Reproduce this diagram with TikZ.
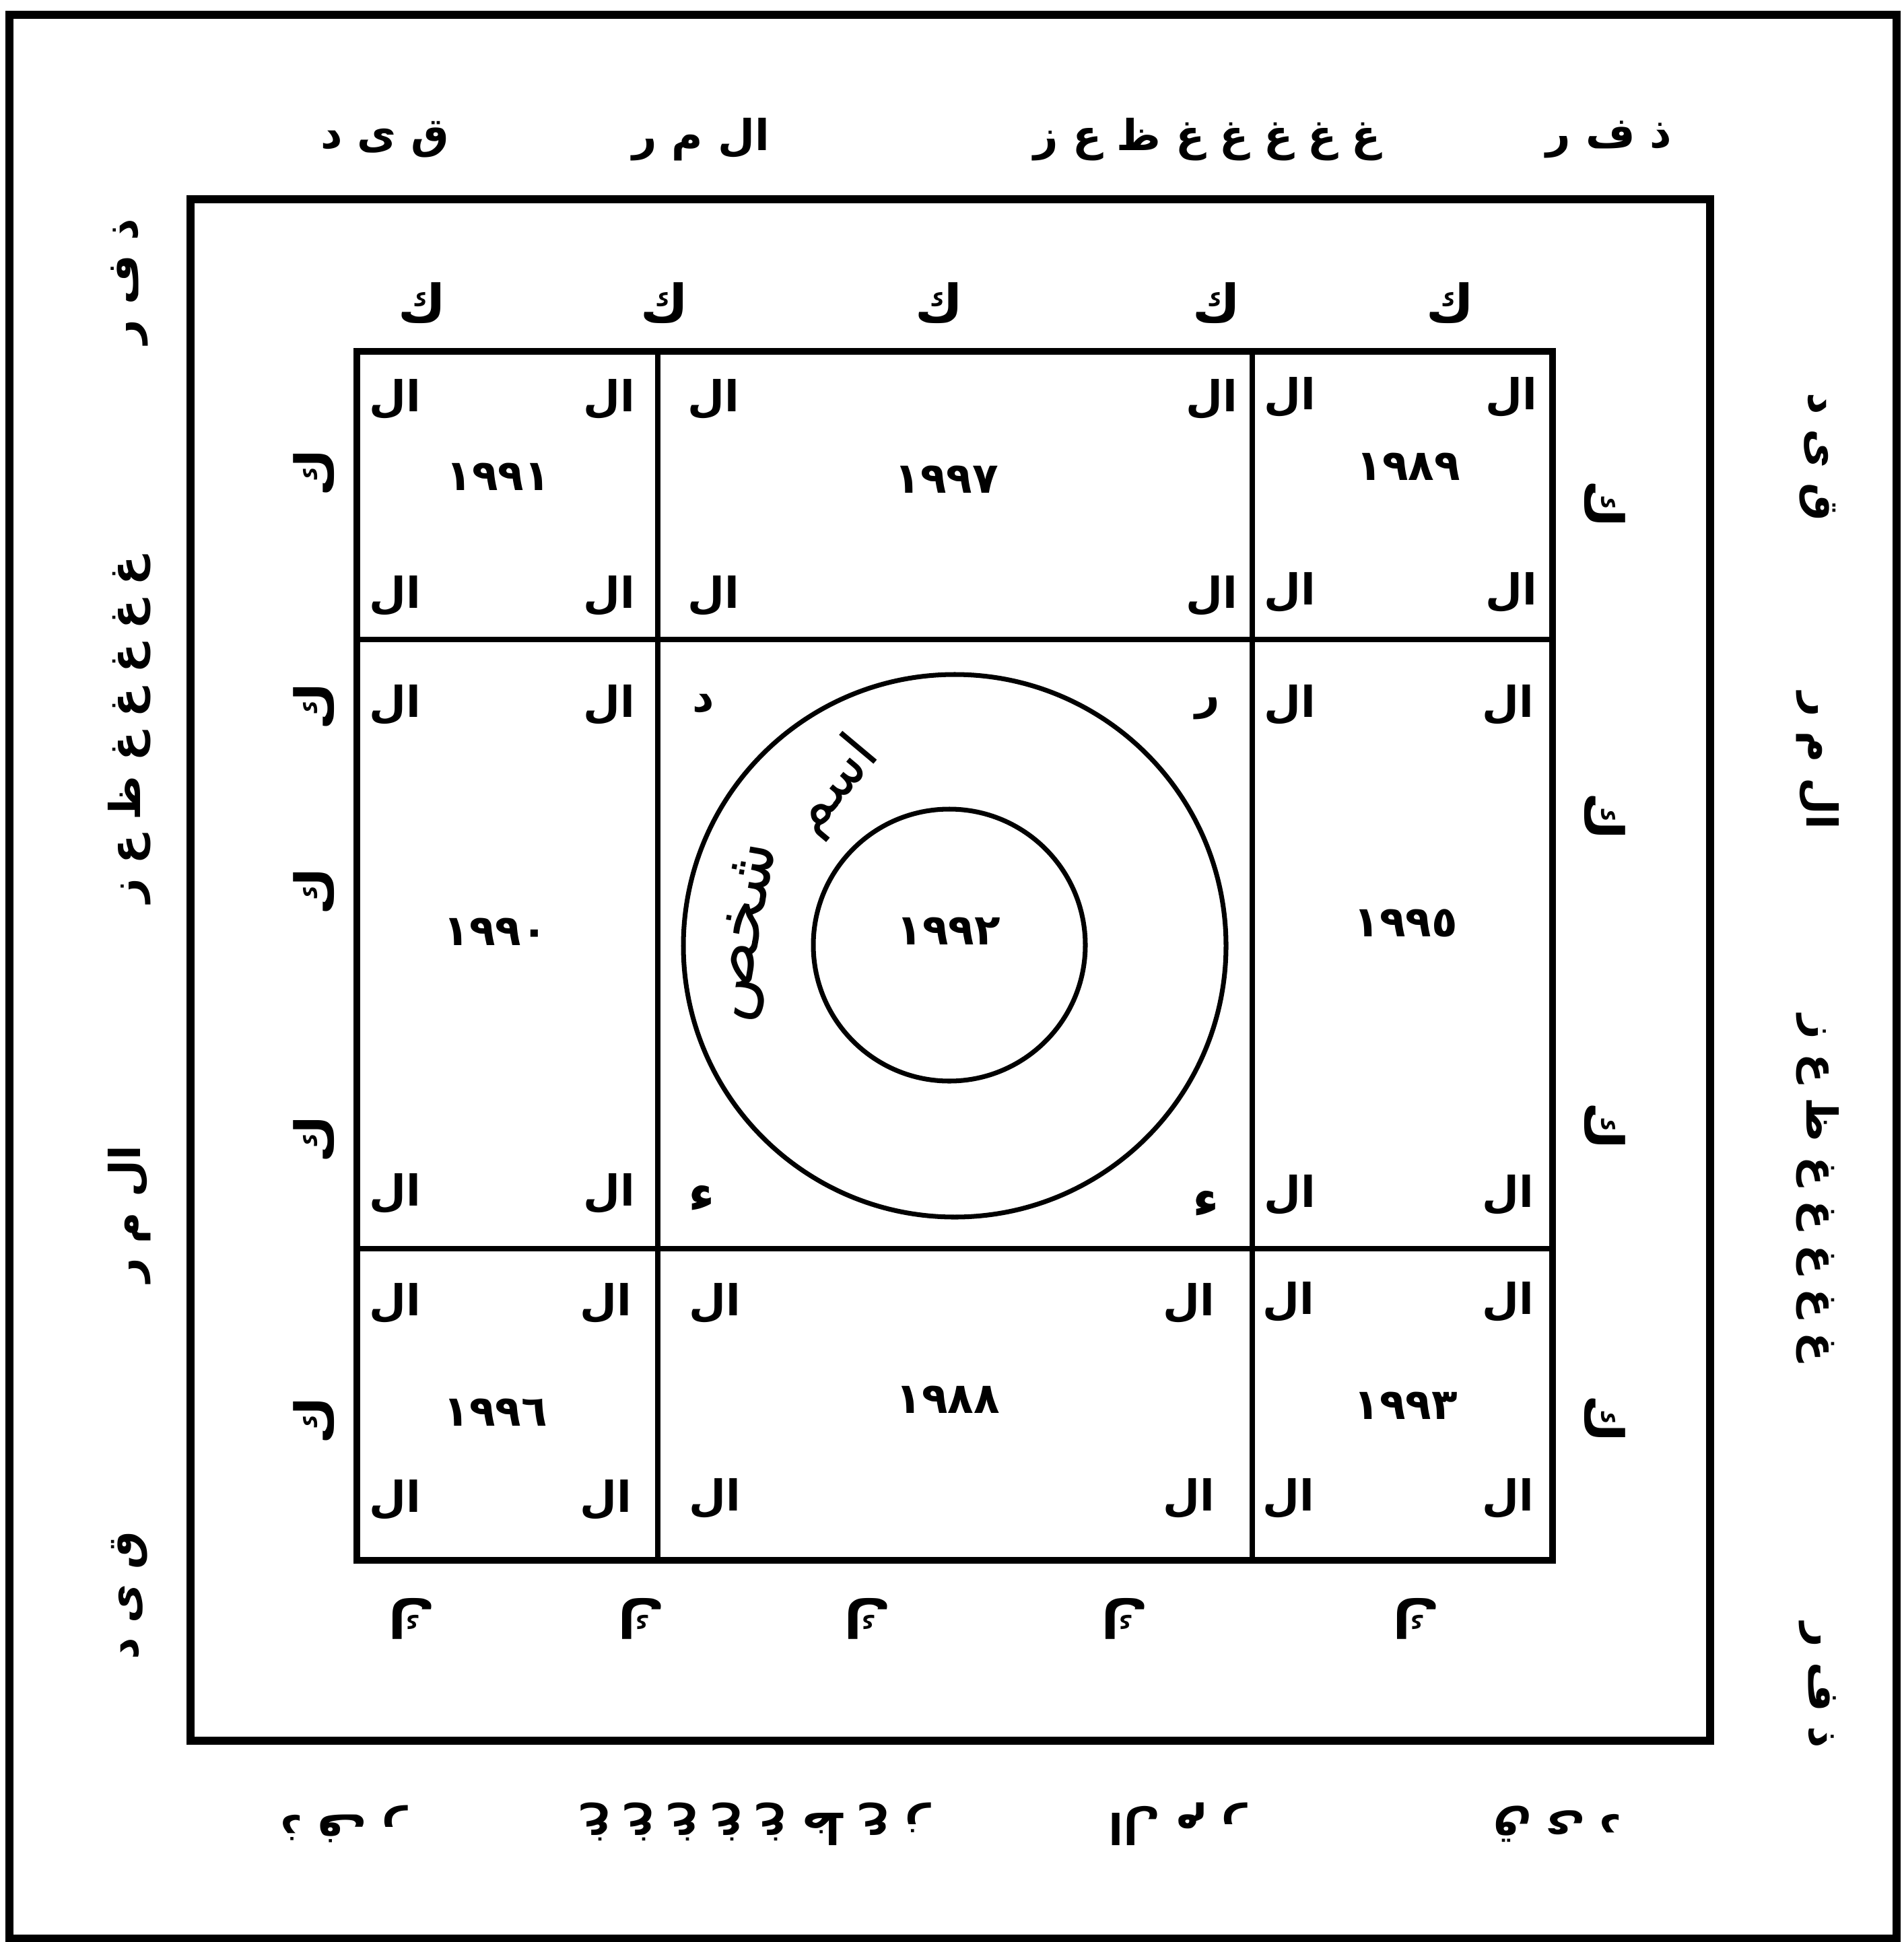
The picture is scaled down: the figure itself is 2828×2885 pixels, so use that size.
\documentclass[tikz,border=0pt]{standalone}
\usepackage{fontspec}
\newfontfamily\arabicfont[Script=Arabic]{DejaVu Sans}
\TeXXeTstate=1
\newcommand\rtl[1]{\beginR #1\endR}
\newcommand\wqyd{ق ى د}
\newcommand\wmr{ال م ر}
\newcommand\wgh{غ غ غ غ غ ظ ع ز}
\newcommand\wdhf{ذ ف ر}

\begin{document}
\begin{tikzpicture}[x=0.01cm,y=-0.01cm,
    txt/.style={font=\arabicfont\bfseries\fontsize{18}{20}\selectfont,inner sep=0pt},
    big/.style={font=\arabicfont\bfseries\fontsize{22}{24}\selectfont,inner sep=0pt},
    hand/.style={font=\arabicfont\fontsize{#1}{#1}\selectfont,inner sep=0pt},
    ring/.style={line width=2pt}]
  \useasboundingbox (0,0) rectangle (2828,2885);
  \draw[line width=3.2pt] (14,22) rectangle (2817,2880);
  \draw[line width=3.2pt] (283,296) rectangle (2540,2586);
  \draw[line width=2.8pt] (530,522) rectangle (2306,2318);
  \draw[line width=2.2pt] (977,522) -- (977,2318) (1860,522) -- (1860,2318)
    (530,950) -- (2306,950) (530,1855) -- (2306,1855);

  \coordinate (mid) at (1418,1405);
  \coordinate (hub) at (1410,1404);
  \draw[ring] (mid) circle (403);
  \draw[ring] (hub) circle (202);
  \node[txt] (core-yr) at (1409,1383) {١٩٩٢};
  \node[hand=25,rotate=50] (name-a) at (1240,1168) {\rtl{اسم}};
  \node[hand=28,rotate=80] (name-b) at (1112,1385) {\rtl{شخص}};
  \node[txt] (c-nw) at (1045,1045) {\rtl{د}};
  \node[txt] (c-ne) at (1794,1053) {\rtl{ر}};
  \node[big] (c-sw) at (1042,1780) {\rtl{ء}};
  \node[big] (c-se) at (1791,1788) {\rtl{ء}};

  \foreach \c/\xa/\xb/\ya/\yb/\n/\xn/\yn in {
      tl/587/905/593/885/١٩٩١/740/708, tm/1060/1800/593/885/١٩٩٧/1406/712,
      tr/1916/2245/590/880/١٩٨٩/2092/693, ml/587/905/1047/1773/١٩٩٠/736/1384,
      mr/1916/2240/1047/1775/١٩٩٥/2088/1371, bl/587/900/1936/2228/١٩٩٦/736/2098,
      bm/1062/1766/1936/2226/١٩٨٨/1408/2079, br/1914/2240/1934/2226/١٩٩٣/2088/2088} {
    \node[txt] (\c-nw) at (\xa,\ya) {\rtl{ال}};
    \node[txt] (\c-ne) at (\xb,\ya) {\rtl{ال}};
    \node[txt] (\c-sw) at (\xa,\yb) {\rtl{ال}};
    \node[txt] (\c-se) at (\xb,\yb) {\rtl{ال}};
    \node[txt] (\c-yr) at (\xn,\yn) {\n};
  }

  \foreach \x [count=\i] in {627,987,1395,1807,2154}
    \node[big] (kaf-t\i) at (\x,450) {\rtl{ك}};
  \foreach \y [count=\i] in {702,1049,1324,1692,2110}
    \node[big,rotate=90] (kaf-l\i) at (466,\y) {\rtl{ك}};
  \foreach \y [count=\i] in {749,1213,1673,2108}
    \node[big,rotate=-90] (kaf-r\i) at (2384,\y) {\rtl{ك}};
  \foreach \x [count=\i] in {611,952,1288,1670,2103}
    \node[big,rotate=180] (kaf-b\i) at (\x,2405) {\rtl{ك}};

  \foreach \w/\x [count=\i] in {\wqyd/572, \wmr/1041, \wgh/1793, \wdhf/2390}
    \node[txt] (word-t\i) at (\x,207) {\rtl{\w}};
  \foreach \w/\y [count=\i] in {\wdhf/418, \wgh/1084, \wmr/1804, \wqyd/2370}
    \node[txt,rotate=90] (word-l\i) at (192,\y) {\rtl{\w}};
  \foreach \w/\y [count=\i] in {\wqyd/679, \wmr/1130, \wgh/1765, \wdhf/2504}
    \node[txt,rotate=-90] (word-r\i) at (2700,\y) {\rtl{\w}};
  \foreach \w/\x [count=\i] in {\wdhf/510, \wgh/1123, \wmr/1749, \wqyd/2313}
    \node[txt,rotate=180] (word-b\i) at (\x,2710) {\rtl{\w}};
\end{tikzpicture}
\end{document}
